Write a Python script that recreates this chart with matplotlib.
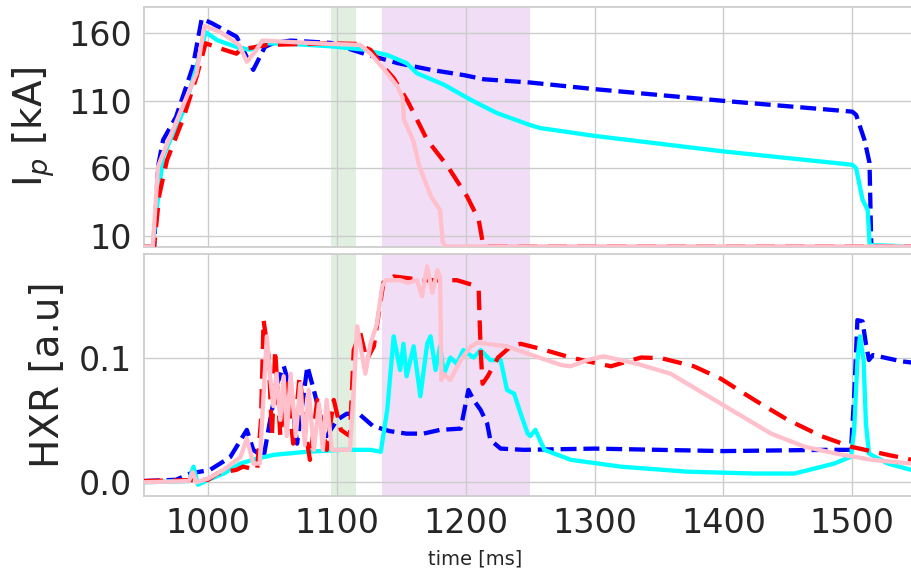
import matplotlib
matplotlib.use("Agg")
import matplotlib.pyplot as plt

# Plasma current traces [kA]
blue_ip_t = [950, 958, 961, 965, 975, 988, 995, 1003, 1022, 1035, 1044, 1051, 1064, 1095, 1121,
             1147, 1173, 1199, 1214, 1250, 1300, 1400, 1500, 1503, 1509.5, 1513.4, 1514.7, 1516, 1546]
blue_ip = [2, 2, 61, 81, 98, 135, 171, 167.5, 157.6, 133, 150, 153, 154.7, 153, 145,
           138, 133, 129, 126, 123.6, 118.7, 110, 102, 99.6, 81, 64, 4.6, 2, 2]

cyan_ip_t = [950, 957, 959, 965, 981, 991, 998, 1007, 1025, 1033, 1043, 1060, 1095, 1121, 1139,
             1154, 1162, 1183, 1204, 1224, 1250, 1258, 1300, 1400, 1500, 1503, 1508, 1512, 1513.5, 1546]
cyan_ip = [2, 2, 22, 69, 103, 135, 161, 155, 149, 148, 152.7, 152.5, 150.5, 148, 144,
           138, 130.5, 122, 110.7, 101, 92, 89.8, 84, 72.5, 62.6, 60, 36.7, 29, 3, 2]

red_ip_t = [950, 958, 962, 968, 981, 991, 998, 1009, 1022, 1025, 1046, 1095, 1116, 1126, 1136,
            1144, 1155, 1170, 1186, 1201, 1210, 1213, 1215, 1546]
red_ip = [2, 2, 40, 66, 98, 128, 152.7, 149, 145, 148, 151.5, 152.7, 152.2, 147.8, 135.4,
          126.8, 109.5, 81, 61.3, 39, 21.8, 5.6, 2, 2]

pink_ip_t = [950, 957, 961, 965, 978, 991, 997, 1009, 1024, 1030, 1036.5, 1042, 1095, 1118, 1126,
             1136, 1147, 1151, 1152, 1159, 1164, 1173, 1180, 1182, 1184, 1546]
pink_ip = [2, 2, 61, 71, 100.8, 130.5, 165.5, 161.3, 151.5, 139, 146.5, 154.7, 152.2, 151.5, 145,
           134, 120.6, 112, 96, 81, 61.3, 39, 29, 5.6, 2, 2]

# Hard X-ray signal [a.u.]
blue_hxr_t = [950, 975, 986, 1001.5, 1017, 1030, 1035, 1043, 1049.5, 1053.5, 1058.7, 1064, 1069,
              1077, 1082, 1087, 1092, 1100, 1107.6, 1118, 1128, 1141, 1154, 1167, 1180, 1196,
              1202, 1206, 1211.5, 1216.6, 1219, 1227, 1245, 1300, 1400, 1480, 1499, 1501.5,
              1504, 1508, 1510.6, 1513, 1516, 1538, 1546]
blue_hxr = [0.001, 0.002, 0.007, 0.01, 0.02, 0.042, 0.026, 0.02, 0.058, 0.079, 0.093, 0.074, 0.031,
            0.093, 0.074, 0.053, 0.037, 0.05, 0.055, 0.054, 0.045, 0.041, 0.039, 0.039, 0.042, 0.043,
            0.074, 0.066, 0.058, 0.047, 0.034, 0.027, 0.026, 0.027, 0.025, 0.026, 0.026, 0.069,
            0.13, 0.129, 0.111, 0.098, 0.102, 0.097, 0.096]

cyan_hxr_t = [950, 985, 988.6, 992, 1000, 1012, 1025, 1038, 1051, 1077, 1103, 1126, 1134, 1139,
              1144, 1149, 1151.6, 1154, 1159.5, 1164.7, 1170, 1172.6, 1176.5, 1180, 1183, 1188,
              1193, 1198, 1206, 1211.5, 1219, 1227, 1232, 1237.5, 1242.6, 1248, 1250, 1254, 1261,
              1281.5, 1320.5, 1372, 1424, 1455, 1470.6, 1486, 1499, 1501.5, 1504, 1506, 1508.8,
              1510.6, 1513, 1527.6, 1546]
cyan_hxr = [0.0, 0.001, 0.0125, -0.002, 0.002, 0.007, 0.015, 0.019, 0.022, 0.0245, 0.026, 0.026,
            0.0245, 0.058, 0.117, 0.09, 0.111, 0.085, 0.109, 0.069, 0.111, 0.117, 0.09, 0.109,
            0.087, 0.1, 0.095, 0.106, 0.1, 0.106, 0.098, 0.098, 0.074, 0.071, 0.055, 0.039, 0.037,
            0.042, 0.026, 0.018, 0.0125, 0.0085, 0.007, 0.007, 0.011, 0.015, 0.0205, 0.042, 0.098,
            0.117, 0.098, 0.047, 0.023, 0.015, 0.0099]

red_hxr_t = [950, 1000, 1007, 1022, 1027, 1038, 1041, 1043, 1047, 1049.5, 1052, 1056, 1061, 1066,
             1071, 1077, 1079, 1084.7, 1092, 1097.5, 1103, 1110, 1113, 1118, 1123, 1128.6, 1136,
             1144, 1167.7, 1193, 1206, 1210, 1211.5, 1213, 1217, 1225, 1235, 1242.6, 1258, 1281.5,
             1294.4, 1312.6, 1336, 1351.6, 1377, 1398, 1424, 1450, 1476, 1499, 1527.6, 1546]
red_hxr = [0.001, 0.002, 0.007, 0.01, 0.0125, 0.01, 0.05, 0.13, 0.1, 0.037, 0.106, 0.037, 0.079,
           0.031, 0.085, 0.031, 0.018, 0.066, 0.026, 0.066, 0.042, 0.037, 0.106, 0.12, 0.098,
           0.109, 0.16, 0.165, 0.162, 0.162, 0.158, 0.154, 0.106, 0.079, 0.085, 0.1, 0.109, 0.111,
           0.107, 0.1, 0.097, 0.093, 0.1, 0.0995, 0.093, 0.083, 0.066, 0.05, 0.037, 0.0285,
           0.022, 0.018]

pink_hxr_t = [950, 985, 988, 991, 1000, 1012, 1025, 1030, 1035, 1040, 1045.5, 1048, 1050.6, 1053,
              1056, 1058.6, 1061, 1064, 1068, 1071.5, 1075, 1078, 1082, 1086, 1089, 1092, 1096,
              1103, 1110, 1113, 1115.6, 1118, 1122, 1126, 1131, 1135, 1138, 1149, 1155, 1162,
              1166, 1170, 1174, 1178, 1180, 1181, 1182.6, 1188, 1196, 1204, 1209, 1232, 1242.6,
              1274, 1281.5, 1294.4, 1307, 1333, 1359, 1385, 1411, 1437, 1463, 1489, 1515, 1546]
pink_hxr = [0.0, 0.001, 0.008, 0.0, 0.003, 0.01, 0.02, 0.035, 0.015, 0.015, 0.117, 0.085, 0.061,
            0.087, 0.05, 0.085, 0.037, 0.087, 0.037, 0.079, 0.03, 0.074, 0.026, 0.063, 0.026,
            0.066, 0.026, 0.026, 0.026, 0.074, 0.125, 0.111, 0.087, 0.111, 0.127, 0.157, 0.162,
            0.162, 0.16, 0.162, 0.149, 0.173, 0.152, 0.17, 0.165, 0.082, 0.087, 0.082, 0.098,
            0.109, 0.112, 0.109, 0.105, 0.094, 0.093, 0.098, 0.101, 0.095, 0.087, 0.071, 0.055,
            0.039, 0.0285, 0.0227, 0.018, 0.015]

# Highlighted time windows [ms]
green_window = (1095, 1115)
purple_window = (1135, 1250)

ip_ticks = [10, 60, 110, 160]
hxr_ticks = [0.0, 0.1]
time_ticks = [1000, 1100, 1200, 1300, 1400, 1500]

text_color = "#262626"
grid_color = "#cccccc"
plt.rcParams["font.family"] = ["DejaVu Sans"]

fig = plt.figure(figsize=(9.11, 5.73), dpi=100)
W, H = 911, 573
left, right = 144.3 / W, 1.0
ax1 = fig.add_axes([left, 1 - 247 / H, right - left, (247 - 7.3) / H])
ax2 = fig.add_axes([left, 1 - 496 / H, right - left, (496 - 254) / H], sharex=ax1)

lw = 3.1
for ax, data in ((ax1, (blue_ip_t, blue_ip, cyan_ip_t, cyan_ip, red_ip_t, red_ip, pink_ip_t, pink_ip)),
                 (ax2, (blue_hxr_t, blue_hxr, cyan_hxr_t, cyan_hxr, red_hxr_t, red_hxr, pink_hxr_t, pink_hxr))):
    bt, bv, ct, cv, rt, rv, pt, pv = data
    ax.axvspan(*green_window, color="green", alpha=0.12, lw=0, zorder=0.5)
    ax.axvspan(*purple_window, color="mediumorchid", alpha=0.2, lw=0, zorder=0.5)
    ax.plot(bt, bv, color="blue", lw=lw, ls="--", zorder=2)
    ax.plot(ct, cv, color="cyan", lw=lw, zorder=3)
    ax.plot(rt, rv, color="red", lw=lw, ls=(0, (4.5, 2.4)), zorder=4)
    ax.plot(pt, pv, color="pink", lw=lw, zorder=5)
    ax.set_facecolor("white")
    ax.grid(True, color=grid_color, lw=1.0)
    ax.set_axisbelow(True)
    for side, sp in ax.spines.items():
        sp.set_color(grid_color)
        sp.set_linewidth(1.25)
    ax.spines["right"].set_visible(False)
    ax.tick_params(length=0, labelsize=24, colors=text_color, labelcolor=text_color)
    ax.tick_params(axis="y", pad=9)
    ax.tick_params(axis="x", pad=8)

ax1.set_xlim(950.4, 1545.6)
ax1.set_xticks(time_ticks)
ax1.tick_params(axis="x", labelbottom=False)
ax1.set_ylim(1.6, 179.4)
ax1.set_yticks(ip_ticks)
ax1.set_ylabel("I$_p$ [kA]", fontsize=28, color=text_color, labelpad=8)

ax2.set_ylim(-0.011, 0.183)
ax2.set_yticks(hxr_ticks)
ax2.set_yticklabels([f"{v:.1f}" for v in hxr_ticks])
ax2.set_ylabel("HXR [a.u]", fontsize=28, color=text_color, labelpad=8)
ax2.set_xlabel("time [ms]", fontsize=14, color=text_color)
ax2.xaxis.set_label_coords(0.432, -0.22)

fig.savefig("out.png", dpi=100, facecolor="white")
